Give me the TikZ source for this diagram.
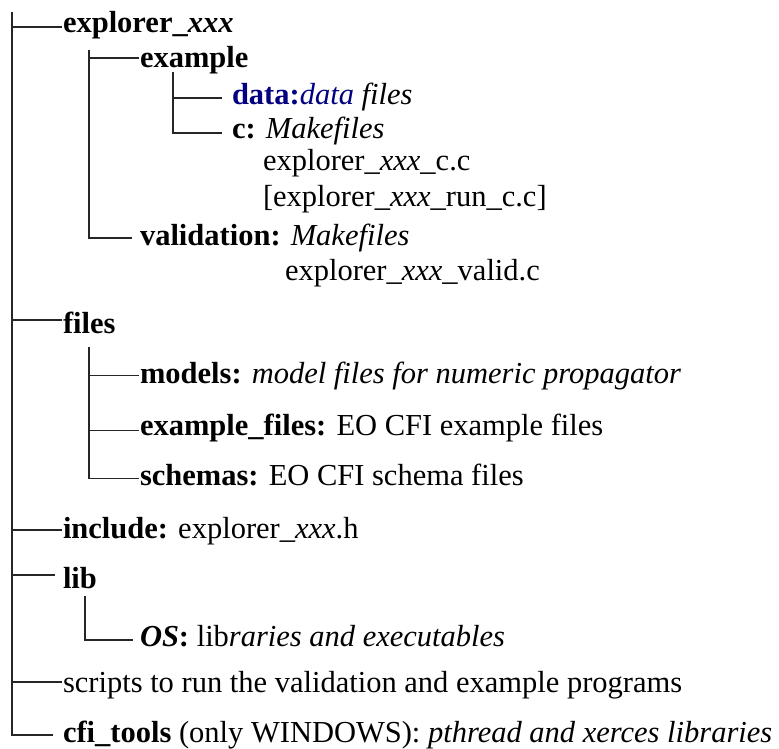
\documentclass[tikz,border=0pt]{standalone}
\usepackage{fontspec}
\setmainfont{Liberation Serif}
\definecolor{navy}{RGB}{0,0,128}
\newcommand{\usc}{\char"5F\relax}
\tikzset{
  item/.style={anchor=base west, inner sep=0pt, outer sep=0pt, font=\fontsize{30.5}{33}\selectfont},
  branch/.style={draw=black!85, line width=1.2pt}
}
\begin{document}
\begin{tikzpicture}[x=1pt, y=-1pt]
\useasboundingbox (0,0) rectangle (779,749);
% texts
\node[item] (exp) at (63,33) {\textbf{explorer\usc\textit{xxx}}};
\node[item] (example) at (140,68) {\textbf{example}};
\node[item] (data) at (232,105) {{\color{navy}\textbf{data:}\textit{data}} \textit{files}};
\node[item] (c) at (232,139) {\textbf{c:} \textit{Makefiles}};
\node[item] (cc) at (263,171) {explorer\usc\textit{xxx}\usc c.c};
\node[item] (runc) at (263,206) {[explorer\usc\textit{xxx}\usc run\usc c.c]};
\node[item] (valid) at (140,245) {\textbf{validation:} \textit{Makefiles}};
\node[item] (validc) at (285,280) {explorer\usc\textit{xxx}\usc valid.c};
\node[item] (files) at (63,333) {\textbf{files}};
\node[item] (models) at (140,383) {\textbf{models:} \textit{model files for numeric propagator}};
\node[item] (exfiles) at (140,435) {\textbf{example\usc files:} EO CFI example files};
\node[item] (schemas) at (140,485) {\textbf{schemas:} EO CFI schema files};
\node[item] (include) at (63,538) {\textbf{include:} explorer\usc\textit{xxx}.h};
\node[item] (lib) at (63,588) {\textbf{lib}};
\node[item] (os) at (140,646) {\textbf{\textit{OS}:} lib\textit{raries and executables}};
\node[item] (scripts) at (63,692) {scripts to run the validation and example programs};
\node[item] (cfi) at (63,742) {\textbf{cfi\usc tools} (only WINDOWS): \textit{pthread and xerces libraries}};
% branch origins
\coordinate (trunk) at (12,12);
\coordinate (expsub) at (89,50);
\coordinate (examplesub) at (173,72);
\coordinate (filessub) at (89,347);
\coordinate (libsub) at (85,596);
% connectors
\draw[branch] (trunk) |- ([xshift=-1pt,yshift=6pt]exp.base west);
\draw[branch] (trunk) |- ([xshift=-1pt,yshift=13pt]files.base west);
\draw[branch] (trunk) |- ([xshift=-1pt,yshift=8pt]include.base west);
\draw[branch] (trunk) |- ([xshift=-8pt,yshift=13pt]lib.base west);
\draw[branch] (trunk) |- ([xshift=-1pt,yshift=10pt]scripts.base west);
\draw[branch] (trunk) |- ([xshift=-10pt,yshift=7pt]cfi.base west);
\draw[branch] (expsub) |- ([xshift=-1pt,yshift=10pt]example.base west);
\draw[branch] (expsub) |- ([xshift=-8pt,yshift=7pt]valid.base west);
\draw[branch] (examplesub) |- ([xshift=-10pt,yshift=7pt]data.base west);
\draw[branch] (examplesub) |- ([xshift=-10pt,yshift=6pt]c.base west);
\draw[branch] (filessub) |- ([xshift=-1pt,yshift=7.5pt]models.base west);
\draw[branch] (filessub) |- ([xshift=-1pt,yshift=4.5pt]exfiles.base west);
\draw[branch] (filessub) |- ([xshift=-1pt,yshift=6.5pt]schemas.base west);
\draw[branch] (libsub) |- ([xshift=-7pt,yshift=6pt]os.base west);
\end{tikzpicture}
\end{document}
